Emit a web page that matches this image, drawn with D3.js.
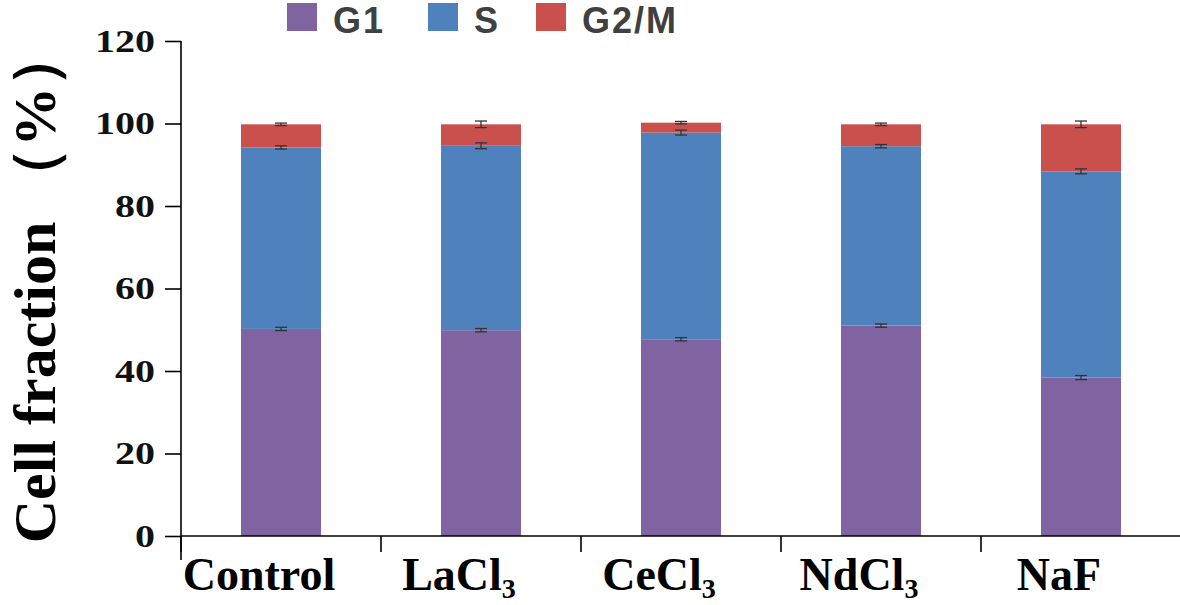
<!DOCTYPE html>
<html>
<head>
<meta charset="utf-8">
<script src="https://cdn.jsdelivr.net/npm/d3@7"></script>
<style>
  body { margin: 0; background: #fff; }
  svg { display: block; }
</style>
</head>
<body>
<div id="chart"></div>
<script>
// data
const groups = ['Control', 'LaCl3', 'CeCl3', 'NdCl3', 'NaF'];
const phases = ['G1', 'S', 'G2/M'];
const g1 = [50.2, 49.9, 47.7, 51.0, 38.4];
const sPhase = [44.0, 44.7, 50.1, 43.5, 50.0];
const g2m = [5.6, 5.2, 2.4, 5.3, 11.4];
const errG1 = [0.4, 0.4, 0.4, 0.4, 0.5];
const errS = [0.4, 0.7, 0.6, 0.4, 0.6];
const errG2m = [0.3, 0.8, 0.3, 0.3, 0.8];
const yTicks = [0, 20, 40, 60, 80, 100, 120];

const width = 1180, height = 605;
const colors = ['#8064A2', '#4F81BD', '#C9504C'];

const rows = groups.map((g, i) => ({ group: g, G1: g1[i], S: sPhase[i], 'G2/M': g2m[i] }));
const errs = [errG1, errS, errG2m];

const svg = d3.select('#chart').append('svg')
  .attr('width', width).attr('height', height);

const x = d3.scaleBand()
  .domain(groups)
  .range([181, 1181])
  .paddingInner(0.6)
  .paddingOuter(0.3);

const y = d3.scaleLinear()
  .domain([0, 120])
  .range([536, 41]);

const stack = d3.stack().keys(phases);
const series = stack(rows);

// bars
svg.append('g').selectAll('g')
  .data(series)
  .join('g')
    .attr('fill', (d, i) => colors[i])
  .selectAll('rect')
  .data(d => d)
  .join('rect')
    .attr('x', d => x(d.data.group))
    .attr('y', d => y(d[1]))
    .attr('height', d => y(d[0]) - y(d[1]))
    .attr('width', x.bandwidth());

// error bars at top of each segment
const eb = [];
series.forEach((s, k) => s.forEach((d, i) => eb.push({ group: d.data.group, top: d[1], e: errs[k][i] })));
const ebg = svg.append('g').attr('stroke', '#333').attr('stroke-width', 1.3);
ebg.selectAll('line.v').data(eb).join('line')
  .attr('class', 'v')
  .attr('x1', d => x(d.group) + x.bandwidth() / 2)
  .attr('x2', d => x(d.group) + x.bandwidth() / 2)
  .attr('y1', d => y(d.top - d.e))
  .attr('y2', d => y(d.top + d.e));
['cu', 'cl'].forEach((c, j) => {
  ebg.selectAll('line.' + c).data(eb).join('line')
    .attr('class', c)
    .attr('x1', d => x(d.group) + x.bandwidth() / 2 - 6)
    .attr('x2', d => x(d.group) + x.bandwidth() / 2 + 6)
    .attr('y1', d => y(j ? d.top - d.e : d.top + d.e))
    .attr('y2', d => y(j ? d.top - d.e : d.top + d.e));
});

// y axis
const yAxis = svg.append('g')
  .attr('transform', 'translate(181,0)')
  .call(d3.axisLeft(y).tickValues(yTicks).tickSize(16).tickPadding(10).tickSizeOuter(0));
yAxis.select('.domain').attr('d', `M0,${y(120)}V560`).attr('stroke', '#000').attr('stroke-width', 1.6);
yAxis.selectAll('.tick line').attr('stroke', '#000').attr('stroke-width', 1.6);
yAxis.selectAll('.tick text')
  .attr('font-family', '"Liberation Serif", "Times New Roman", serif')
  .attr('font-weight', 'bold')
  .attr('font-size', '32px')
  .attr('fill', '#111')
  .attr('textLength', d => String(d).length * 20)
  .attr('lengthAdjust', 'spacingAndGlyphs');

// x axis with ticks at category boundaries
const xAxis = svg.append('g').attr('transform', `translate(0,${y(0)})`);
xAxis.append('line')
  .attr('x1', 181).attr('x2', 1181).attr('y1', 0).attr('y2', 0)
  .attr('stroke', '#000').attr('stroke-width', 1.6);
xAxis.selectAll('line.tk').data(groups).join('line')
  .attr('class', 'tk')
  .attr('x1', d => x(d) - x.step() * 0.3).attr('x2', d => x(d) - x.step() * 0.3)
  .attr('y1', 0).attr('y2', 16)
  .attr('stroke', '#000').attr('stroke-width', 1.6);

const labels = xAxis.selectAll('text').data(groups).join('text')
  .attr('x', d => x(d) + x.bandwidth() / 2 - 22)
  .attr('y', 54)
  .attr('text-anchor', 'middle')
  .attr('font-family', '"Liberation Serif", "Times New Roman", serif')
  .attr('font-weight', 'bold')
  .attr('font-size', '46px')
  .attr('fill', '#000');
labels.each(function (d) {
  const t = d3.select(this);
  const m = d.match(/^(.*?)(\d+)$/);
  if (m) {
    t.append('tspan').text(m[1]);
    t.append('tspan').text(m[2]).attr('font-size', '28px').attr('dy', 8);
  } else {
    t.text(d);
  }
});

// y axis title
svg.append('text')
  .attr('transform', 'translate(55,285) rotate(-90)')
  .attr('text-anchor', 'middle')
  .attr('font-family', '"Liberation Serif", "Times New Roman", serif')
  .attr('font-weight', 'bold')
  .attr('font-size', '60px')
  .attr('fill', '#000')
  .text('Cell fraction （%）');

// legend
const legendX = [287, 428, 536];
const legend = svg.append('g').selectAll('g').data(phases).join('g')
  .attr('transform', (d, i) => `translate(${legendX[i]},3)`);
legend.append('rect')
  .attr('width', 30).attr('height', 28)
  .attr('fill', (d, i) => colors[i]);
legend.append('text')
  .attr('x', 46).attr('y', 30)
  .attr('font-family', '"Liberation Sans", Arial, sans-serif')
  .attr('font-weight', 'bold')
  .attr('font-size', '36px')
  .attr('letter-spacing', '2px')
  .attr('fill', '#404040')
  .text(d => d);
</script>
</body>
</html>
